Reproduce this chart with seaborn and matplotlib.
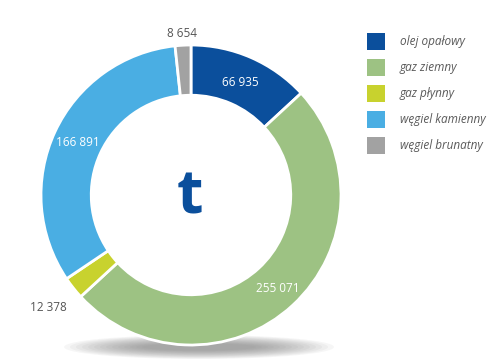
import numpy as np
import matplotlib.pyplot as plt
import seaborn as sns
from matplotlib.patches import Ellipse, Rectangle

# data
fuels = ["olej opałowy", "gaz ziemny", "gaz płynny", "węgiel kamienny", "węgiel brunatny"]
tonnes = [66935, 255071, 12378, 166891, 8654]
labels = ["66 935", "255 071", "12 378", "166 891", "8 654"]
colors = ["#0b4f9c", "#9dc283", "#c8d22e", "#4aaee3", "#a2a2a2"]

sns.set_style("white")
plt.rcParams['font.family'] = ['Open Sans', 'DejaVu Sans']

fig = plt.figure(figsize=(5, 3.62), dpi=100)
ax = fig.add_axes([0, 0, 1, 1])

cx, cy, R = 191, 167, 150

# soft shadow under the ring
for i in range(14):
    ax.add_patch(Ellipse((cx + 8, cy - 152), 270 - i * 12, 24 - i * 1.3,
                         color="#6e6e6e", alpha=0.06, lw=0, zorder=0))

wedges, _ = ax.pie(tonnes, colors=colors, startangle=90, counterclock=False,
                   center=(cx, cy), radius=R,
                   wedgeprops=dict(width=R * 0.335, edgecolor="white", linewidth=2))

# value labels
inside = [True, True, False, True, False]
dist = [0.82, 0.85, 1.21, 0.83, 1.08]
for w, lab, ins, d in zip(wedges, labels, inside, dist):
    ang = np.deg2rad((w.theta1 + w.theta2) / 2)
    x = cx + R * d * np.cos(ang)
    y = cy + R * d * np.sin(ang)
    ax.text(x, y, lab, ha="center", va="center", fontsize=8.5,
            color="white" if ins else "#555555")

ax.text(cx - 1, cy - 3, "t", ha="center", va="center", fontsize=44,
        fontweight="bold", color="#0b4f9c")

# legend
for i, (f, c) in enumerate(zip(fuels, colors)):
    yy = 362 - (41 + i * 26)
    ax.add_patch(Rectangle((367, yy - 8.5), 18, 17, color=c, lw=0))
    ax.text(400, yy, f, ha="left", va="center", fontsize=8.5,
            style="italic", color="#5a5a5a")

ax.set_xlim(0, 500)
ax.set_ylim(0, 362)
ax.set_aspect("auto")
ax.axis("off")

fig.savefig("out.png", dpi=100)
